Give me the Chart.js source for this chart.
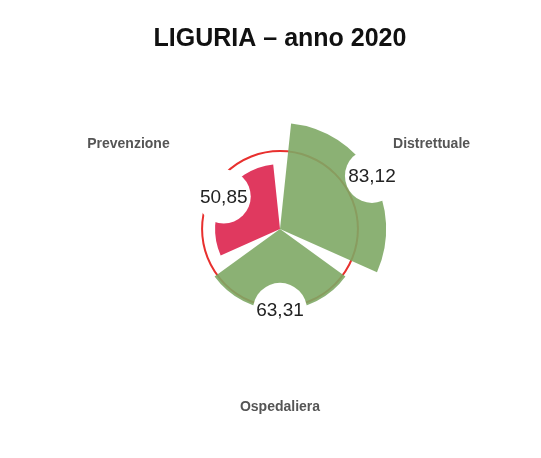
<!DOCTYPE html>
<html>
<head>
<meta charset="utf-8">
<title>LIGURIA – anno 2020</title>
<script src="https://cdn.jsdelivr.net/npm/chart.js@4/dist/chart.umd.min.js"></script>
<style>
  html, body { margin: 0; padding: 0; background: #fff; }
  #wrap { width: 541px; height: 458px; position: relative; }
</style>
</head>
<body>
<div id="wrap"><canvas id="myChart"></canvas></div>
<script>
console.log("polar chart initializing.");

// Data
const categories = ['Distrettuale', 'Ospedaliera', 'Prevenzione'];
const values = [83.12, 63.31, 50.85];
const valueLabels = ['83,12', '63,31', '50,85'];
const sliceColors = ['rgba(126,168,101,0.9)', 'rgba(126,168,101,0.9)', '#e0395f'];
const threshold = 61;     // red reference circle
const scaleMax = 137;     // outer edge of the radial scale (where category names sit)

const gapAngle = 12;      // degrees of white space between slices
const sliceAngle = 120 - gapAngle;

// polarArea puts slices back to back, so a zero-valued "gap" entry precedes every slice
const labels = [];
const data = [];
const colors = [];
const isGap = [];
categories.forEach((c, i) => {
    labels.push(''); data.push(0); colors.push('rgba(0,0,0,0)'); isGap.push(true);
    labels.push(c); data.push(values[i]); colors.push(sliceColors[i]); isGap.push(false);
});

const FONT = "'Liberation Sans', Arial, Helvetica, sans-serif";

// red circle behind the slices
const thresholdCircle = {
    id: 'thresholdCircle',
    beforeDatasetsDraw(chart) {
        const scale = chart.scales.r;
        const ctx = chart.ctx;
        ctx.save();
        ctx.beginPath();
        ctx.arc(scale.xCenter, scale.yCenter, scale.getDistanceFromCenterForValue(threshold), 0, Math.PI * 2);
        ctx.strokeStyle = '#e8302e';
        ctx.lineWidth = 2;
        ctx.stroke();
        ctx.restore();
    }
};

// values in white bubbles on the slice edge, category names outside
const sliceLabels = {
    id: 'sliceLabels',
    afterDatasetsDraw(chart) {
        const ctx = chart.ctx;
        const scale = chart.scales.r;
        const meta = chart.getDatasetMeta(0);
        let k = 0;
        meta.data.forEach((arc, i) => {
            if (isGap[i]) return;
            const mid = (arc.startAngle + arc.endAngle) / 2;
            const bx = arc.x + Math.cos(mid) * arc.outerRadius;
            const by = arc.y + Math.sin(mid) * arc.outerRadius;
            ctx.save();
            ctx.beginPath();
            ctx.arc(bx, by, 27, 0, Math.PI * 2);
            ctx.fillStyle = '#ffffff';
            ctx.fill();
            ctx.fillStyle = '#222222';
            ctx.font = '19px ' + FONT;
            ctx.textAlign = 'center';
            ctx.textBaseline = 'middle';
            ctx.fillText(valueLabels[k], bx, by + 1);

            const lr = scale.getDistanceFromCenterForValue(scaleMax);
            ctx.fillStyle = '#555555';
            ctx.font = 'bold 14px ' + FONT;
            ctx.fillText(categories[k], arc.x + Math.cos(mid) * lr, arc.y + Math.sin(mid) * lr + 3);
            ctx.restore();
            k++;
        });
    }
};

var ctx = document.getElementById('myChart').getContext('2d');
var myChart = new Chart(ctx, {
    type: 'polarArea',
    data: {
        labels: labels,
        datasets: [{
            data: data,
            backgroundColor: colors,
            borderWidth: 0,
            angle: (c) => isGap[c.dataIndex] ? gapAngle : sliceAngle
        }]
    },
    options: {
        responsive: true,
        maintainAspectRatio: false,
        animation: false,
        layout: { padding: { left: 19, right: 0, top: 0, bottom: 54 } },
        scales: {
            r: {
                display: false,
                min: 0,
                max: scaleMax,
                startAngle: -gapAngle / 2
            }
        },
        plugins: {
            legend: { display: false },
            tooltip: { enabled: false },
            title: {
                display: true,
                text: 'LIGURIA – anno 2020',
                color: '#111111',
                font: { family: FONT, size: 25, weight: 'bold' },
                padding: { top: 24, bottom: 0 }
            }
        }
    },
    plugins: [thresholdCircle, sliceLabels]
});

console.log("polar chart loaded.");
</script>
</body>
</html>
